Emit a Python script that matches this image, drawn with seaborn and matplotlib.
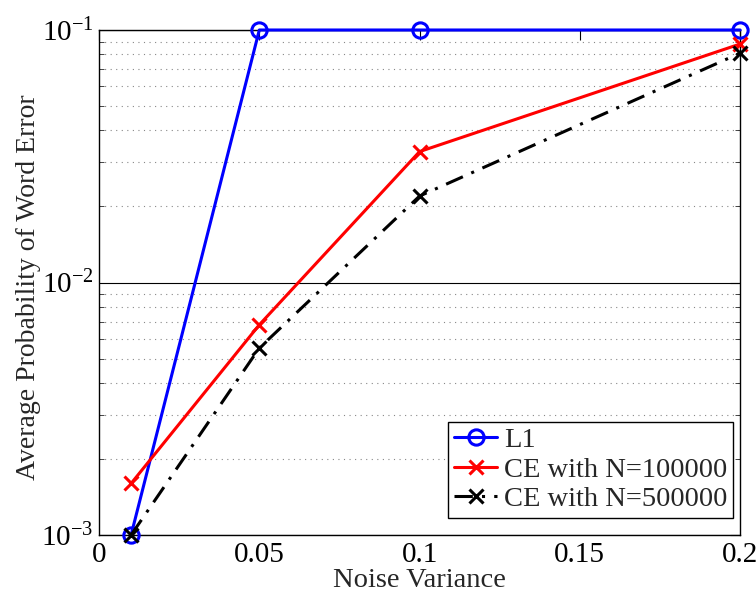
import numpy as np
import pandas as pd
import matplotlib
matplotlib.use("Agg")
import matplotlib.pyplot as plt
import seaborn as sns
from matplotlib.ticker import LogLocator, FixedLocator, NullLocator

sns.set_style("white")
plt.rcParams['font.family'] = ['Liberation Serif', 'DejaVu Serif']
plt.rcParams['mathtext.fontset'] = 'stix'

noise_variance = [0.01, 0.05, 0.1, 0.2]
l1 = [0.001, 0.1, 0.1, 0.1]
ce_100k = [0.0016, 0.0068, 0.033, 0.088]
ce_500k = [0.001, 0.0055, 0.022, 0.081]
labels = ["L1", "CE with N=100000", "CE with N=500000"]

fig = plt.figure(figsize=(7.56, 5.94), dpi=100)
ax = fig.add_axes([0.131, 0.0993, 0.848, 0.8502])

df = pd.DataFrame({"x": noise_variance * 3,
                   "y": l1 + ce_100k + ce_500k,
                   "series": [labels[0]] * 4 + [labels[1]] * 4 + [labels[2]] * 4})

ax.set_yscale('log')
ax.set_xlim(0, 0.2)
ax.set_ylim(1e-3, 1e-1)
ax.yaxis.set_major_locator(LogLocator(base=10, numticks=10))
ax.yaxis.set_minor_locator(LogLocator(base=10, subs=np.arange(2, 10), numticks=20))
ax.grid(True, which='major', axis='y', color='black', linestyle='-', linewidth=0.8)
ax.grid(True, which='minor', axis='y', color='#888888', linestyle=(0, (1, 4)), linewidth=0.8)
ax.set_axisbelow(True)

styles = [
    dict(color='blue', marker='o', markersize=11, markerfacecolor='none',
         markeredgecolor='blue', linestyle='-'),
    dict(color='red', marker='x', markersize=10, markeredgecolor='red', linestyle='-'),
    dict(color='black', marker='x', markersize=10, markeredgecolor='black',
         linestyle=(0, (6, 3, 1, 3))),
]
for lab, st in zip(labels, styles):
    sns.lineplot(data=df[df.series == lab], x="x", y="y", ax=ax, linewidth=2.2,
                 markeredgewidth=2.2, label=lab, clip_on=False, zorder=5, **st)

ax.set_xlim(0, 0.2)
ax.set_ylim(1e-3, 1e-1)
ax.xaxis.set_major_locator(FixedLocator([0, 0.05, 0.1, 0.15, 0.2]))
ax.xaxis.set_minor_locator(NullLocator())
ax.set_xticklabels(["0", "0.05", "0.1", "0.15", "0.2"])
ax.set_yticks([1e-3, 1e-2, 1e-1])
ax.set_yticklabels([r"$\mathregular{10^{-3}}$", r"$\mathregular{10^{-2}}$",
                    r"$\mathregular{10^{-1}}$"])

ax.tick_params(axis='both', which='major', direction='in', length=7, width=0.8,
               top=True, right=True, labelsize=21, pad=5, colors='black')
ax.tick_params(axis='y', which='major', pad=4)
ax.tick_params(axis='y', which='minor', direction='in', length=3.5, width=0.6,
               left=True, right=True)
for s in ax.spines.values():
    s.set_color('black')
    s.set_linewidth(1.0)

ax.set_xlabel("Noise Variance", fontsize=20.5, labelpad=0)
ax.set_ylabel("Average Probability of Word Error", fontsize=20)
ax.yaxis.set_label_coords(-0.09, 0.49)

leg = ax.legend(loc='lower right', bbox_to_anchor=(0.989, 0.034), fontsize=20.5,
                frameon=True, fancybox=False, edgecolor='black', framealpha=1,
                borderpad=0.2, labelspacing=0.12, handlelength=1.5,
                handletextpad=0.25, borderaxespad=0)
leg.get_frame().set_linewidth(1.0)
leg.set_zorder(10)

fig.savefig("out.png", dpi=100)
